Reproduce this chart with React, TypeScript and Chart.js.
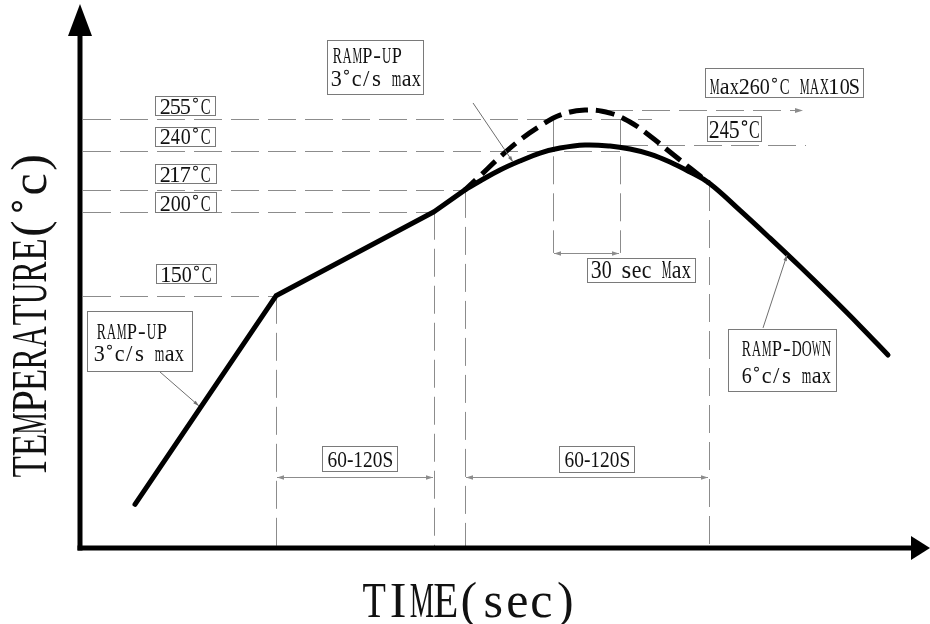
import React, { useEffect, useRef } from "react";
import { Chart, registerables } from "chart.js";

Chart.register(...registerables);

// ---- data (time in s, temperature in °C) ----
const rampTimes = [27.5, 98, 177, 192.5];
const rampTemps = [26, 150, 200, 213];

const reflowTimes = [192.5, 200, 210, 220, 230, 240, 252.5, 265, 275, 285, 295, 305, 314.5, 330, 345, 360, 375, 390, 404];
const reflowTemps = [213, 218.3, 224.8, 230.2, 234.9, 237.9, 239.7, 239.1, 237.3, 234.3, 229.6, 223.6, 217.1, 200.8, 184.3, 167.4, 150, 132.1, 114.8];

const peakTimes = [192.5, 200, 210, 220, 230, 240, 252.5, 265, 275, 285, 295, 305, 314.5];
const peakTemps = [213, 221.3, 232.6, 242.7, 251, 257.5, 260.5, 258.7, 253.4, 245.1, 235.5, 226, 217.1];

// horizontal reference levels (drawn height) and where they end
const levelTemps = [255, 236, 213, 200, 150];
const levelEnds = [286, 270, 192.5, 177, 98];
const levelLabels = ["255°C", "240°C", "217°C", "200°C", "150°C"];

// max peak line (with arrow) and 245 line on the right
const maxLine = [262.5, 361.5];
const maxTemp = 260.5;
const peak245Line = [270, 363];
const peak245Temp = 240;

// vertical markers: time and curve temperature
const markerTimes = [98, 177, 192.5, 314.5];
const markerTemps = [150, 200, 213, 217.1];

// 30 sec window
const windowTimes = [236.5, 270];
const windowTop = 255;
const windowDim = 175.5;

// 60-120 s dimension lines
const soakDim = [98, 177];
const liquidusDim = [192.5, 314.5];
const dimTemp = 42;

const X_MAX = 420;
const Y_MAX = 320;

const FONT = '"Liberation Serif", "DejaVu Serif", serif';
const GUIDE = "#8c8c8c";
const INK = "#111111";

type Line = { text: string; dx: number; dy: number; w: number; mono?: boolean };
type Box = { t: number; T: number; w: number; h: number; size: number; lines: Line[] };

const boxes: Box[] = [
  { t: 37.5, T: 268.8, w: 60, h: 19, size: 23, lines: [{ text: levelLabels[0], dx: 5, dy: 17, w: 50, mono: true }] },
  { t: 37.5, T: 250.4, w: 60, h: 19, size: 23, lines: [{ text: levelLabels[1], dx: 5, dy: 16, w: 50, mono: true }] },
  { t: 37.5, T: 228.4, w: 61, h: 19, size: 23, lines: [{ text: levelLabels[2], dx: 5, dy: 17, w: 50, mono: true }] },
  { t: 37.5, T: 211.7, w: 61, h: 20, size: 23, lines: [{ text: levelLabels[3], dx: 5, dy: 18, w: 50, mono: true }] },
  { t: 38, T: 168.9, w: 60, h: 19, size: 23, lines: [{ text: levelLabels[4], dx: 5, dy: 17, w: 50, mono: true }] },
  {
    t: 123.5, T: 302.2, w: 96, h: 54, size: 23,
    lines: [
      { text: "RAMP-UP", dx: 5, dy: 22, w: 69, mono: true },
      { text: "3°c/s max", dx: 4, dy: 45, w: 90, mono: true },
    ],
  },
  { t: 312.5, T: 285.5, w: 158, h: 29, size: 23, lines: [{ text: "Max260°C MAX10S", dx: 4, dy: 25, w: 150, mono: true }] },
  { t: 313.5, T: 257, w: 54, h: 25, size: 25, lines: [{ text: "245°C", dx: 2, dy: 21, w: 50, mono: true }] },
  { t: 253.5, T: 172.5, w: 108, h: 24, size: 25, lines: [{ text: "30 sec Max", dx: 4, dy: 19, w: 100, mono: true }] },
  {
    t: 3.5, T: 141, w: 105, h: 60, size: 23,
    lines: [
      { text: "RAMP-UP", dx: 9, dy: 27, w: 70, mono: true },
      { text: "3°c/s max", dx: 7, dy: 49, w: 90, mono: true },
    ],
  },
  { t: 121, T: 60.7, w: 75, h: 25, size: 23, lines: [{ text: "60-120S", dx: 5, dy: 20, w: 65 }] },
  { t: 239.5, T: 60.7, w: 75, h: 26, size: 23, lines: [{ text: "60-120S", dx: 5, dy: 20, w: 65 }] },
  {
    t: 324, T: 130.3, w: 108, h: 62, size: 23,
    lines: [
      { text: "RAMP-DOWN", dx: 13, dy: 26, w: 90, mono: true },
      { text: "6°c/s max", dx: 13, dy: 53, w: 90, mono: true },
    ],
  },
];

// leader lines: from (t1,T1) at the label to (t2,T2) on the curve
const leaders = [
  [196.5, 264.7, 216.5, 229.6],
  [40, 104.7, 59.5, 84.5],
  [341.5, 130.9, 353.5, 174.3],
];

function fitText(ctx: CanvasRenderingContext2D, text: string, x: number, y: number, w: number, size: number) {
  ctx.save();
  ctx.font = `${size}px ${FONT}`;
  ctx.textAlign = "left";
  ctx.textBaseline = "alphabetic";
  const m = ctx.measureText(text);
  const ink = (m.actualBoundingBoxRight || m.width) + (m.actualBoundingBoxLeft || 0);
  const s = w / ink;
  ctx.translate(x, y);
  ctx.scale(s, 1);
  ctx.fillText(text, m.actualBoundingBoxLeft || 0, 0);
  ctx.restore();
}

// half-width "monospace" rendering: every character in a cell of equal width
function monoText(ctx: CanvasRenderingContext2D, text: string, x: number, y: number, w: number, size: number) {
  const chars = Array.from(text);
  const cell = w / chars.length;
  ctx.save();
  ctx.font = `${size}px ${FONT}`;
  ctx.textAlign = "left";
  ctx.textBaseline = "alphabetic";
  chars.forEach((ch, i) => {
    const cx = x + (i + 0.5) * cell;
    if (ch === " ") return;
    if (ch === "°") {
      ctx.save();
      ctx.strokeStyle = ctx.fillStyle as string;
      ctx.lineWidth = Math.max(1, size * 0.045);
      ctx.beginPath();
      ctx.arc(cx, y - size * 0.58, size * 0.085, 0, Math.PI * 2);
      ctx.stroke();
      ctx.restore();
      return;
    }
    const m = ctx.measureText(ch);
    const L = m.actualBoundingBoxLeft || 0;
    const R = m.actualBoundingBoxRight || m.width;
    const ink = L + R;
    const s = Math.min(1, (cell * 0.96) / ink);
    ctx.save();
    ctx.translate(cx, y);
    ctx.scale(s, 1);
    ctx.fillText(ch, -(R - L) / 2, 0);
    ctx.restore();
  });
  ctx.restore();
}

function arrowHead(ctx: CanvasRenderingContext2D, x: number, y: number, ang: number, len: number, half: number) {
  ctx.save();
  ctx.translate(x, y);
  ctx.rotate(ang);
  ctx.beginPath();
  ctx.moveTo(0, 0);
  ctx.lineTo(-len, -half);
  ctx.lineTo(-len, half);
  ctx.closePath();
  ctx.fill();
  ctx.restore();
}

const snap = (v: number) => Math.round(v) + 0.5;

const guidesPlugin = {
  id: "guides",
  beforeDatasetsDraw(chart: any) {
    const { ctx, scales } = chart;
    const px = (t: number) => scales.x.getPixelForValue(t);
    const py = (T: number) => scales.y.getPixelForValue(T);
    const seg = (x1: number, y1: number, x2: number, y2: number) => {
      ctx.beginPath();
      ctx.moveTo(x1, y1);
      ctx.lineTo(x2, y2);
      ctx.stroke();
    };
    ctx.save();
    ctx.strokeStyle = GUIDE;
    ctx.fillStyle = GUIDE;
    ctx.lineWidth = 1;
    ctx.setLineDash([28, 9]);
    levelTemps.forEach((T, i) => {
      const y = snap(py(T));
      seg(px(0) + 3, y, px(levelEnds[i]), y);
    });
    const ym = snap(py(maxTemp));
    seg(px(maxLine[0]), ym, px(maxLine[1]) - 6, ym);
    const y245 = snap(py(peak245Temp));
    seg(px(peak245Line[0]), y245, px(peak245Line[1]), y245);
    markerTimes.forEach((t, i) => {
      const x = snap(px(t));
      seg(x, py(markerTemps[i]), x, py(0) - 2);
    });
    windowTimes.forEach((t) => {
      const x = snap(px(t));
      seg(x, py(windowTop), x, py(windowDim));
    });
    ctx.setLineDash([]);
    arrowHead(ctx, px(maxLine[1]), ym, 0, 8, 2.5);
    const dims: [number, number, number][] = [
      [soakDim[0], soakDim[1], dimTemp],
      [liquidusDim[0], liquidusDim[1], dimTemp],
      [windowTimes[0], windowTimes[1], windowDim],
    ];
    dims.forEach(([a, b, T]) => {
      const y = snap(py(T));
      const x1 = px(a) + 1;
      const x2 = px(b) - 1;
      seg(x1, y, x2, y);
      arrowHead(ctx, x1, y, Math.PI, 7, 2.2);
      arrowHead(ctx, x2, y, 0, 7, 2.2);
    });
    ctx.restore();
  },
  afterDatasetsDraw(chart: any) {
    const { ctx, scales } = chart;
    const px = (t: number) => scales.x.getPixelForValue(t);
    const py = (T: number) => scales.y.getPixelForValue(T);
    ctx.save();
    ctx.strokeStyle = "#6e6e6e";
    ctx.fillStyle = "#6e6e6e";
    ctx.lineWidth = 1;
    leaders.forEach(([t1, T1, t2, T2]) => {
      const x1 = px(t1), y1 = py(T1), x2 = px(t2), y2 = py(T2);
      ctx.beginPath();
      ctx.moveTo(x1, y1);
      ctx.lineTo(x2, y2);
      ctx.stroke();
      arrowHead(ctx, x2, y2, Math.atan2(y2 - y1, x2 - x1), 6, 1.8);
    });
    boxes.forEach((b) => {
      const x = Math.round(px(b.t)) + 0.5;
      const y = Math.round(py(b.T)) + 0.5;
      ctx.fillStyle = "#ffffff";
      ctx.fillRect(x, y, b.w, b.h);
      ctx.strokeStyle = "#7a7a7a";
      ctx.lineWidth = 1;
      ctx.strokeRect(x, y, b.w, b.h);
      ctx.fillStyle = INK;
      b.lines.forEach((l) =>
        l.mono
          ? monoText(ctx, l.text, x + l.dx, y + l.dy, l.w, b.size)
          : fitText(ctx, l.text, x + l.dx, y + l.dy, l.w, b.size)
      );
    });
    // axes
    const x0 = px(0);
    const y0 = py(0);
    ctx.strokeStyle = "#000";
    ctx.fillStyle = "#000";
    ctx.lineWidth = 5;
    ctx.lineCap = "butt";
    ctx.beginPath();
    ctx.moveTo(x0, y0 + 2.5);
    ctx.lineTo(x0, 30);
    ctx.stroke();
    ctx.beginPath();
    ctx.moveTo(x0 - 2.5, y0);
    ctx.lineTo(914, y0);
    ctx.stroke();
    ctx.beginPath();
    ctx.moveTo(x0, 4);
    ctx.lineTo(x0 - 12, 36);
    ctx.lineTo(x0 + 12, 36);
    ctx.closePath();
    ctx.fill();
    ctx.beginPath();
    ctx.moveTo(930, y0);
    ctx.lineTo(911, y0 - 12);
    ctx.lineTo(911, y0 + 12);
    ctx.closePath();
    ctx.fill();
    // titles
    ctx.fillStyle = INK;
    monoText(ctx, "TIME(sec)", 362, 617, 215, 50);
    ctx.save();
    ctx.translate(46, 478);
    ctx.rotate(-Math.PI / 2);
    monoText(ctx, "TEMPERATURE(°c)", 0, 0, 326, 50);
    ctx.restore();
    ctx.restore();
  },
};

export default function App() {
  const ref = useRef<HTMLCanvasElement | null>(null);
  useEffect(() => {
    document.body.style.margin = "0";
    const canvas = ref.current;
    if (!canvas) return;
    const chart = new Chart(canvas, {
      type: "line",
      data: {
        datasets: [
          {
            data: rampTimes.map((t, i) => ({ x: t, y: rampTemps[i] })),
            borderColor: "#000",
            borderWidth: 5,
            pointRadius: 0,
            tension: 0,
            borderCapStyle: "round",
            borderJoinStyle: "round",
            fill: false,
          },
          {
            data: reflowTimes.map((t, i) => ({ x: t, y: reflowTemps[i] })),
            borderColor: "#000",
            borderWidth: 5,
            pointRadius: 0,
            tension: 0.4,
            borderCapStyle: "round",
            borderJoinStyle: "round",
            fill: false,
          },
          {
            data: peakTimes.map((t, i) => ({ x: t, y: peakTemps[i] })),
            borderColor: "#000",
            borderWidth: 5,
            pointRadius: 0,
            tension: 0.4,
            borderDash: [19, 8],
            borderDashOffset: 4,
            fill: false,
          },
        ],
      } as any,
      options: {
        responsive: false,
        animation: false,
        events: [],
        layout: { padding: { left: 80, right: 10, top: 10, bottom: 76 } },
        plugins: { legend: { display: false }, tooltip: { enabled: false } },
        scales: {
          x: { type: "linear", min: 0, max: X_MAX, display: false },
          y: { type: "linear", min: 0, max: Y_MAX, display: false },
        },
      },
      plugins: [guidesPlugin],
    });
    return () => chart.destroy();
  }, []);
  return (
    <div style={{ width: 930, height: 624, background: "#fff" }}>
      <canvas ref={ref} width={930} height={624} style={{ display: "block" }} />
    </div>
  );
}
